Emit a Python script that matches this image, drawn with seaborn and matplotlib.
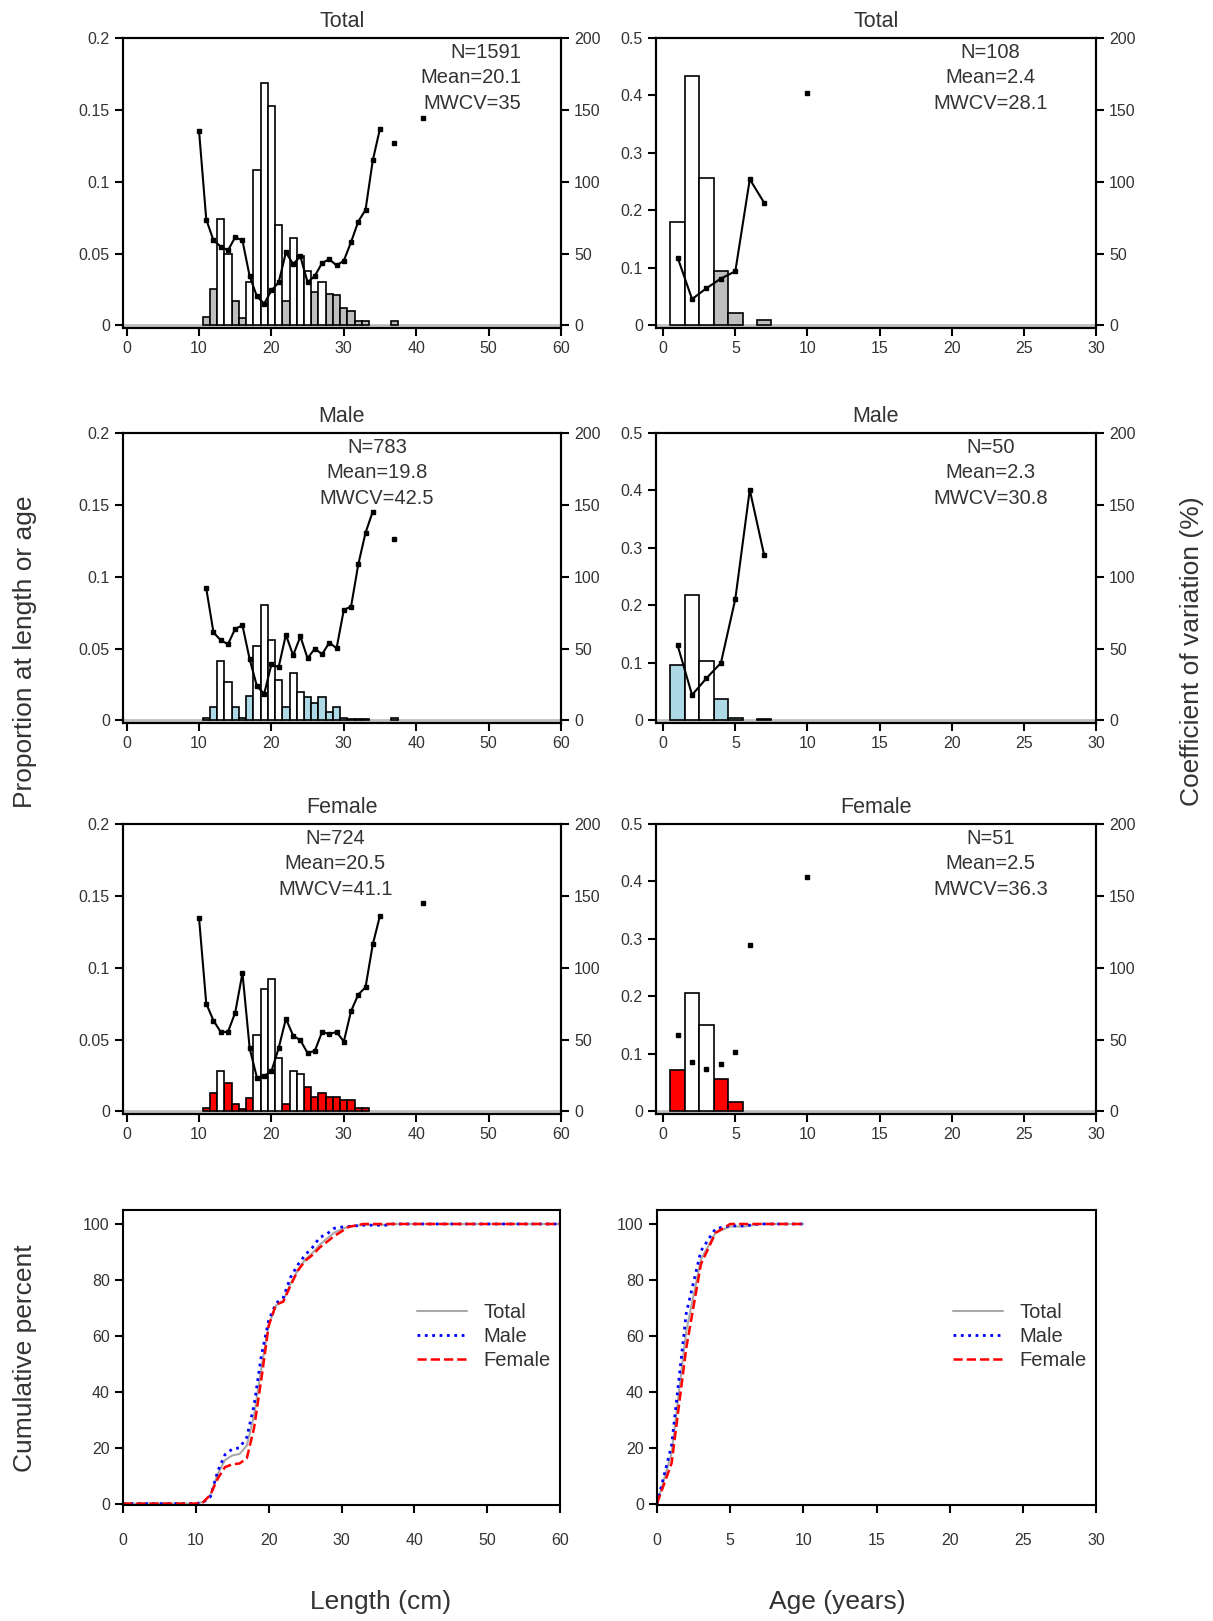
import numpy as np
import pandas as pd
import matplotlib
matplotlib.use("Agg")
import matplotlib.pyplot as plt
import seaborn as sns

sns.set_style("white")
plt.rcParams['font.family'] = ['Liberation Sans', 'DejaVu Sans']

# ---------------- data ----------------
len_bins = list(range(11, 34)) + [37]
total_len_prop = [0.006, 0.025, 0.074, 0.050, 0.017, 0.005, 0.030, 0.108, 0.169, 0.153, 0.070, 0.017,
                  0.061, 0.048, 0.038, 0.023, 0.030, 0.022, 0.021, 0.012, 0.010, 0.003, 0.003, 0.003]
total_len_fill = list("ccwwcc" + "wwwww" + "c" + "www" + "c" + "w" + "cccccc" + "c")
male_len_prop = [0.002, 0.009, 0.041, 0.027, 0.009, 0.002, 0.017, 0.052, 0.080, 0.056, 0.028, 0.009,
                 0.033, 0.020, 0.016, 0.012, 0.016, 0.006, 0.009, 0.002, 0.001, 0.001, 0.001, 0.002]
male_len_fill = list("ccwwccc" + "wwww" + "c" + "ww" + "ccccccccc" + "c")
female_len_prop = [0.0023, 0.013, 0.028, 0.020, 0.005, 0.0014, 0.009, 0.053, 0.085, 0.092, 0.037, 0.005,
                   0.028, 0.026, 0.017, 0.010, 0.013, 0.010, 0.010, 0.008, 0.008, 0.0025, 0.0025, 0.0]
female_len_fill = list("ccwcccc" + "wwww" + "c" + "ww" + "ccccccccc" + "c")

cv_len_x = list(range(10, 42))
total_len_cv = [135.6, 73.7, 59.1, 54.9, 52.2, 61.4, 59.1, 34.1, 20.2, 15.1, 24.3, 29.9, 50.8, 42.7, 48.0,
                29.9, 34.5, 43.4, 46.1, 41.7, 45.0, 58.0, 72.3, 80.4, 114.8, 137.0, np.nan, 126.6,
                np.nan, np.nan, np.nan, 144.6]
male_len_cv = [np.nan, 91.8, 61.2, 55.8, 53.0, 63.8, 66.1, 42.5, 23.8, 18.5, 39.0, 37.1, 59.6, 45.3, 58.4,
               43.2, 50.0, 46.0, 54.2, 50.2, 76.9, 79.2, 108.6, 130.6, 145.3, np.nan, np.nan, 126.0,
               np.nan, np.nan, np.nan, np.nan]
female_len_cv = [134.7, 75.0, 63.2, 55.3, 55.3, 68.8, 96.3, 43.8, 23.5, 24.7, 27.9, 44.0, 64.5, 52.8, 49.5,
                 40.6, 42.2, 55.3, 53.9, 55.3, 48.6, 69.8, 81.3, 86.4, 116.2, 136.3, np.nan, np.nan,
                 np.nan, np.nan, np.nan, 145.1]

age_bins = [1, 2, 3, 4, 5, 6, 7]
total_age_prop = [0.180, 0.434, 0.256, 0.095, 0.022, 0.0, 0.009]
total_age_fill = ["w", "w", "w", "c", "c", "c", "c"]
male_age_prop = [0.0966, 0.218, 0.103, 0.037, 0.0046, 0.0, 0.003]
male_age_fill = ["c", "w", "w", "c", "c", "c", "c"]
female_age_prop = [0.0724, 0.206, 0.150, 0.056, 0.016, 0.0, 0.0]
female_age_fill = ["c", "w", "w", "c", "c", "c", "c"]

cv_age_x = list(range(1, 11))
total_age_cv = [47.2, 18.3, 25.9, 32.6, 37.7, 101.7, 85.3, np.nan, np.nan, 161.6]
male_age_cv = [52.2, 17.7, 29.4, 40.0, 84.6, 160.5, 114.9, np.nan, np.nan, np.nan]
female_age_cv = [53.2, 34.1, 29.2, 32.7, 41.2, 116.0, np.nan, np.nan, np.nan, 163.3]

stats_len = [("N=1591", "Mean=20.1", "MWCV=35"), ("N=783", "Mean=19.8", "MWCV=42.5"),
             ("N=724", "Mean=20.5", "MWCV=41.1")]
stats_age = [("N=108", "Mean=2.4", "MWCV=28.1"), ("N=50", "Mean=2.3", "MWCV=30.8"),
             ("N=51", "Mean=2.5", "MWCV=36.3")]
titles = ["Total", "Male", "Female"]
colors = ["#BEBEBE", "#ADD8E6", "#FF0000"]

# ---------------- figure ----------------
W, H = 1213, 1621
fig = plt.figure(figsize=(W / 100, H / 100), dpi=100)

def axes_px(left, top, right, bottom):
    return fig.add_axes([left / W, 1 - bottom / H, (right - left) / W, (bottom - top) / H])

rows_top = [38, 433, 824]
TXT = "#333333"

def style(ax):
    for s in ax.spines.values():
        s.set_visible(True)
        s.set_color("black")
        s.set_linewidth(1.5)
    ax.tick_params(direction="out", length=6, width=1.5, labelsize=11.5, colors="black",
                   labelcolor=TXT, left=True, bottom=True)

def draw_panel(ax, bins, props, fills, col, cvx, cv, xlim, xticks, ymax, yticks, ytl,
               title, stats, tx, ha, connect=True):
    df = pd.DataFrame({"x": bins, "y": props, "f": fills})
    df = df[df["y"] > 0]
    sns.barplot(data=df, x="x", y="y", hue="f", palette={"w": "white", "c": col},
                native_scale=True, width=1.0, dodge=False, edgecolor="black", linewidth=1.2,
                legend=False, ax=ax, saturation=1)
    ax.axhline(0, color="#BEBEBE", lw=2, zorder=0.5)
    ax.set_xlim(*xlim)
    ax.set_ylim(-ymax * 0.009, ymax)
    ax.set_xticks(xticks)
    ax.set_xticklabels([str(t) for t in xticks])
    ax.set_yticks(yticks)
    ax.set_yticklabels(ytl)
    ax.set_xlabel("")
    ax.set_ylabel("")
    style(ax)
    ax2 = ax.twinx()
    ax2.set_ylim(-200 * 0.009, 200)
    ax2.set_yticks([0, 50, 100, 150, 200])
    ax2.set_yticklabels(["0", "50", "100", "150", "200"])
    ax2.plot(cvx, cv, color="black", lw=1.5, marker="s", ms=3.2,
             linestyle="-" if connect else "none")
    style(ax2)
    ax2.tick_params(right=True, left=False)
    ax.set_title(title, fontsize=15.5, color=TXT, pad=8)
    for i, s in enumerate(stats):
        ax.text(tx, [0.95, 0.865, 0.775][i], s, transform=ax.transAxes, ha=ha, va="center",
                fontsize=14.5, color=TXT)

len_sets = [(total_len_prop, total_len_fill, total_len_cv),
            (male_len_prop, male_len_fill, male_len_cv),
            (female_len_prop, female_len_fill, female_len_cv)]
age_sets = [(total_age_prop, total_age_fill, total_age_cv, True),
            (male_age_prop, male_age_fill, male_age_cv, True),
            (female_age_prop, female_age_fill, female_age_cv, False)]
len_tx = [(0.91, "right"), (0.58, "center"), (0.485, "center")]

for r in range(3):
    top = rows_top[r]
    axL = axes_px(123, top, 561, top + 290)
    p, f, cv = len_sets[r]
    draw_panel(axL, len_bins, p, f, colors[r], cv_len_x, cv, (-0.5, 60),
               [0, 10, 20, 30, 40, 50, 60], 0.2, [0, 0.05, 0.1, 0.15, 0.2],
               ["0", "0.05", "0.1", "0.15", "0.2"], titles[r], stats_len[r], *len_tx[r])
    axR = axes_px(656, top, 1096, top + 290)
    p, f, cv, con = age_sets[r]
    draw_panel(axR, age_bins, p, f, colors[r], cv_age_x, cv, (-0.5, 30),
               [0, 5, 10, 15, 20, 25, 30], 0.5, [0, 0.1, 0.2, 0.3, 0.4, 0.5],
               ["0", "0.1", "0.2", "0.3", "0.4", "0.5"], titles[r], stats_age[r], 0.76, "center",
               connect=con)

# ---------------- cumulative ----------------
def cum_df(bins, props, xmax):
    xs = np.arange(0, xmax + 1)
    vals = np.zeros(len(xs))
    for b, v in zip(bins, props):
        vals[b] += v
    c = np.cumsum(vals)
    return xs, 100 * c / c[-1]

line_styles = [("Total", "#A9A9A9", "-", 1.5), ("Male", "blue", ":", 2.0), ("Female", "red", "--", 1.8)]

for (left, right, bins, sets, xmax, xlim, xticks) in [
        (123, 560, len_bins, [s[0] for s in len_sets], 60, (0, 60), [0, 10, 20, 30, 40, 50, 60]),
        (657, 1096, age_bins, [s[0] for s in age_sets], 10, (0, 30), [0, 5, 10, 15, 20, 25, 30])]:
    ax = axes_px(left, 1210, right, 1505)
    for (lab, col, ls, lw), props in zip(line_styles, sets):
        xs, cs = cum_df(bins, props, xmax)
        sns.lineplot(x=xs, y=cs, ax=ax, color=col, linestyle=ls, lw=lw, label=lab)
    ax.set_xlim(*xlim)
    ax.set_ylim(-0.5, 105)
    ax.set_xticks(xticks)
    ax.set_yticks([0, 20, 40, 60, 80, 100])
    style(ax)
    ax.tick_params(pad=14, axis="x")
    leg = ax.legend(loc="center right", bbox_to_anchor=(1.02, 0.57), frameon=False, fontsize=14.5,
                    handlelength=2.5, labelspacing=0.25)
    for t in leg.get_texts():
        t.set_color(TXT)

fig.text(0.021, 0.598, "Proportion at length or age", rotation=90, ha="center", va="center",
         fontsize=19, color=TXT)
fig.text(0.983, 0.598, "Coefficient of variation (%)", rotation=90, ha="center", va="center",
         fontsize=19, color=TXT)
fig.text(0.021, 0.162, "Cumulative percent", rotation=90, ha="center", va="center",
         fontsize=19, color=TXT)
fig.text(0.314, 0.012, "Length (cm)", ha="center", va="center", fontsize=19, color=TXT)
fig.text(0.69, 0.012, "Age (years)", ha="center", va="center", fontsize=19, color=TXT)

fig.savefig("out.png", dpi=100)
